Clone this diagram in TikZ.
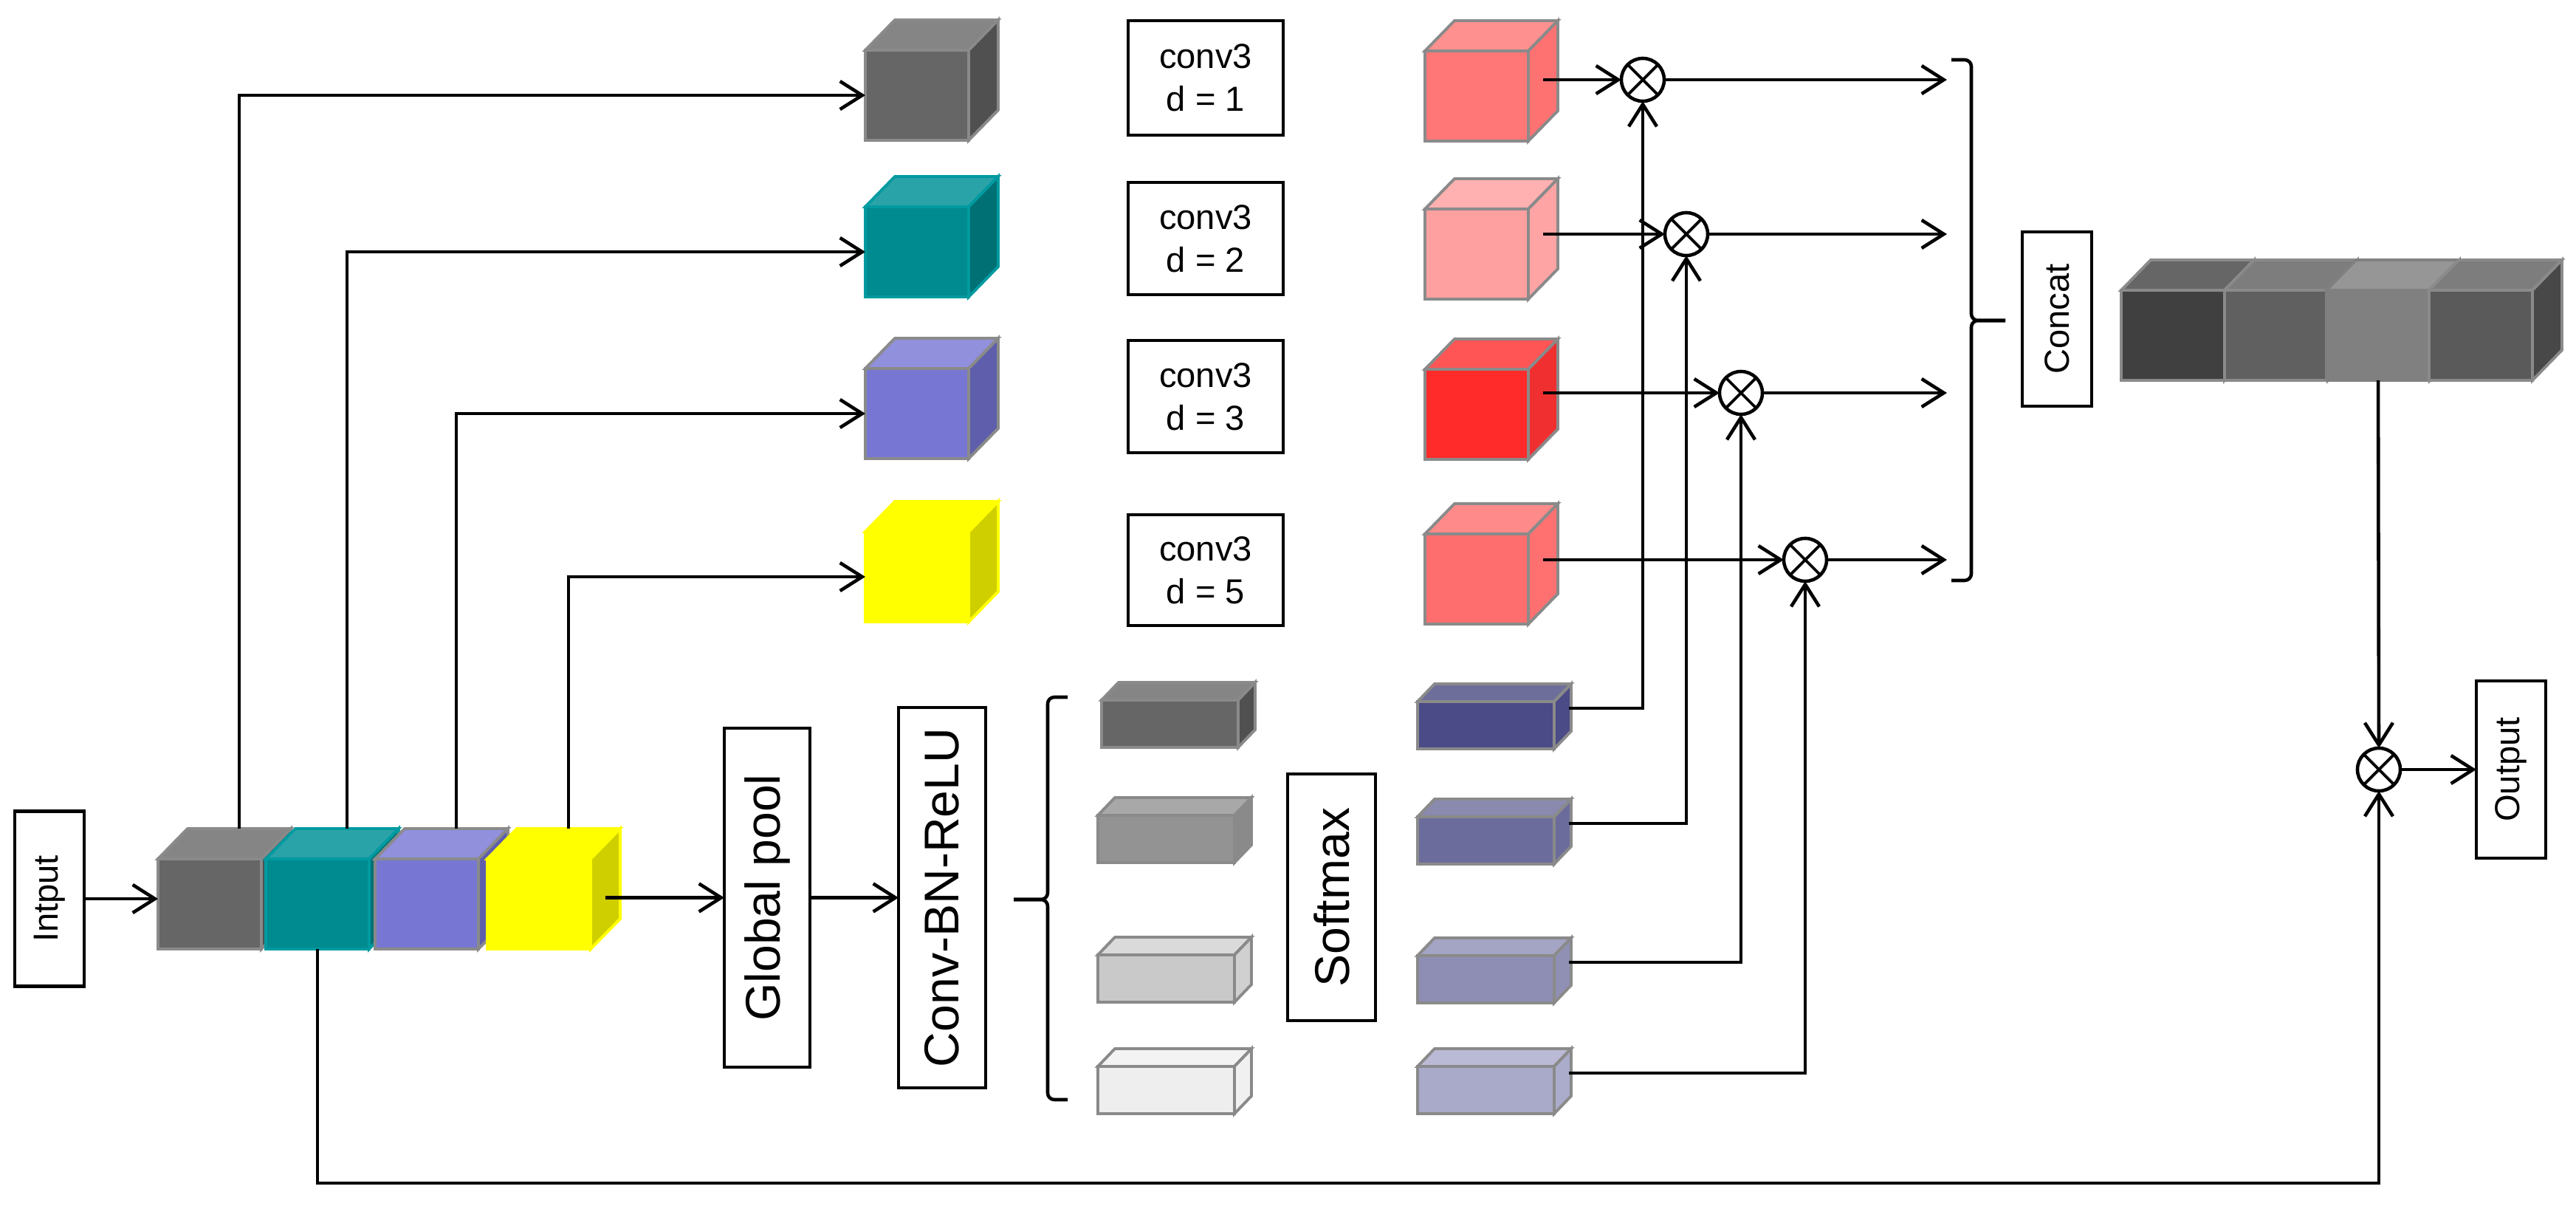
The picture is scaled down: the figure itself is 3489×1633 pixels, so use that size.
\documentclass[tikz,border=0pt]{standalone}
\usepackage{fontspec}
\setmainfont{Liberation Sans}
\usepackage{graphicx}
\usetikzlibrary{arrows.meta}
% input / branch cubes
\definecolor{gF}{HTML}{666666}\definecolor{gT}{HTML}{858585}\definecolor{gS}{HTML}{505050}\definecolor{gO}{HTML}{8A8A8A}
\definecolor{tF}{HTML}{008B91}\definecolor{tT}{HTML}{2AA3A8}\definecolor{tS}{HTML}{007074}\definecolor{tO}{HTML}{009AA0}
\definecolor{vF}{HTML}{7777D3}\definecolor{vT}{HTML}{9090DD}\definecolor{vS}{HTML}{5E5EAC}
\definecolor{yF}{HTML}{FFFF00}\definecolor{yS}{HTML}{CFCF00}
% pink cubes
\definecolor{p1F}{HTML}{FF7777}\definecolor{p1T}{HTML}{FF9090}\definecolor{p1S}{HTML}{FF7272}
\definecolor{p2F}{HTML}{FFA0A0}\definecolor{p2T}{HTML}{FFB0B0}\definecolor{p2S}{HTML}{FFA4A4}
\definecolor{p3F}{HTML}{FF2A2A}\definecolor{p3T}{HTML}{FF5555}\definecolor{p3S}{HTML}{F03030}
\definecolor{p4F}{HTML}{FF6E6E}\definecolor{p4T}{HTML}{FF8A8A}\definecolor{p4S}{HTML}{FF7070}
% slabs
\definecolor{s1F}{HTML}{666666}\definecolor{s1T}{HTML}{858585}\definecolor{s1S}{HTML}{505050}
\definecolor{s2F}{HTML}{939393}\definecolor{s2T}{HTML}{A8A8A8}\definecolor{s2S}{HTML}{8A8A8A}
\definecolor{s3F}{HTML}{C9C9C9}\definecolor{s3T}{HTML}{DADADA}\definecolor{s3S}{HTML}{D0D0D0}
\definecolor{s4F}{HTML}{EEEEEE}\definecolor{s4T}{HTML}{F3F3F3}\definecolor{s4S}{HTML}{F0F0F0}
\definecolor{q1F}{HTML}{4B4B87}\definecolor{q1T}{HTML}{6E6E9B}\definecolor{q1S}{HTML}{4B4B87}
\definecolor{q2F}{HTML}{6C6C9C}\definecolor{q2T}{HTML}{8A8AAF}\definecolor{q2S}{HTML}{6C6C9C}
\definecolor{q3F}{HTML}{8E8EB4}\definecolor{q3T}{HTML}{A4A4C4}\definecolor{q3S}{HTML}{9090B4}
\definecolor{q4F}{HTML}{A9A9C9}\definecolor{q4T}{HTML}{BABAD6}\definecolor{q4S}{HTML}{ABABCB}
% concat cube
\definecolor{k1F}{HTML}{404040}\definecolor{k1T}{HTML}{666666}
\definecolor{k2F}{HTML}{606060}\definecolor{k2T}{HTML}{7D7D7D}
\definecolor{k3F}{HTML}{808080}\definecolor{k3T}{HTML}{969696}
\definecolor{k4F}{HTML}{5A5A5A}\definecolor{k4T}{HTML}{7D7D7D}\definecolor{kS}{HTML}{484848}

% big cube: name, x, y (front top-left), front, top, side, outline
\newcommand{\bcube}[7]{%
  \path[cf,fill=#5,draw=#7] (#2,#3) -- ++(40,-41) -- ++(140,0) -- ++(-40,41) -- cycle;
  \path[cf,fill=#6,draw=#7] (#2+140,#3) -- ++(40,-41) -- ++(0,122) -- ++(-40,41) -- cycle;
  \node[cf,draw=#7,fill=#4,minimum width=1.4cm,minimum height=1.22cm,anchor=north west] (#1) at (#2,#3) {};
  \coordinate (#1-t) at (#2+110,#3-41);
  \coordinate (#1-r) at (#2+160,#3+41);
}
% flat slab: name, x, y, front, top, side, outline
\newcommand{\slab}[7]{%
  \path[cf,fill=#5,draw=#7] (#2,#3) -- ++(23,-24) -- ++(185,0) -- ++(-23,24) -- cycle;
  \path[cf,fill=#6,draw=#7] (#2+185,#3) -- ++(23,-24) -- ++(0,64) -- ++(-23,24) -- cycle;
  \node[cf,draw=#7,fill=#4,minimum width=1.85cm,minimum height=0.64cm,anchor=north west] (#1) at (#2,#3) {};
  \coordinate (#1-r) at (#2+205,#3+9);
}

\begin{document}
\begin{tikzpicture}[x=0.01cm,y=-0.01cm,line width=1.3pt,
  arr/.style={-{Straight Barb[length=0.3cm,width=0.38cm]}},
  box/.style={draw=black,line width=1.3pt,fill=white,inner sep=0pt,outer sep=0pt},
  lbl/.style={font=\fontsize{13.4}{16.5}\selectfont},
  big/.style={font=\fontsize{18.8}{22}\selectfont},
  cf/.style={inner sep=0pt,outer sep=0pt,line width=1.1pt},
  otimes/.style={circle,draw,line width=1.3pt,minimum size=0.58cm,inner sep=0pt,outer sep=0pt,fill=white},
  brk/.style={line width=1.3pt,rounded corners=0.09cm}]
\useasboundingbox (0,0) rectangle (3489,1633);

% ---------- input strip ----------
\node[box,lbl,minimum width=0.94cm,minimum height=2.37cm] (inp) at (67,1217) {\rotatebox{90}{Intput}};
\bcube{in1}{214}{1163}{gF}{gT}{gS}{gO}
\bcube{in2}{360}{1163}{tF}{tT}{tS}{tO}
\bcube{in3}{508}{1163}{vF}{vT}{vS}{gO}
\bcube{in4}{660}{1163}{yF}{yF}{yS}{yF}

% ---------- branch cubes ----------
\bcube{u1}{1172}{68}{gF}{gT}{gS}{gO}
\bcube{u2}{1172}{280}{tF}{tT}{tS}{tO}
\bcube{u3}{1172}{499}{vF}{vT}{vS}{gO}
\bcube{u4}{1172}{720}{yF}{yF}{yS}{yF}

\node[box,lbl,align=center,minimum width=2.1cm,minimum height=1.55cm] (k1) at (1633,105.5) {conv3\\d = 1};
\node[box,lbl,align=center,minimum width=2.1cm,minimum height=1.52cm] (k2) at (1633,323) {conv3\\d = 2};
\node[box,lbl,align=center,minimum width=2.1cm,minimum height=1.52cm] (k3) at (1633,537) {conv3\\d = 3};
\node[box,lbl,align=center,minimum width=2.1cm,minimum height=1.50cm] (k4) at (1633,772) {conv3\\d = 5};

\bcube{p1}{1930}{69}{p1F}{p1T}{p1S}{gO}
\bcube{p2}{1930}{283}{p2F}{p2T}{p2S}{gO}
\bcube{p3}{1930}{500}{p3F}{p3T}{p3S}{gO}
\bcube{p4}{1930}{723}{p4F}{p4T}{p4S}{gO}

% ---------- attention path ----------
\node[box,big,minimum width=1.16cm,minimum height=4.59cm] (gp) at (1039,1215.5) {\rotatebox{90}{Global pool}};
\node[box,big,minimum width=1.18cm,minimum height=5.15cm] (cbr) at (1276,1215.5) {\rotatebox{90}{Conv-BN-ReLU}};
\node[box,big,minimum width=1.19cm,minimum height=3.34cm] (sm) at (1803.5,1215) {\rotatebox{90}{Softmax}};

\slab{s1}{1492}{948}{s1F}{s1T}{s1S}{gO}
\slab{s2}{1487}{1104}{s2F}{s2T}{s2S}{gO}
\slab{s3}{1487}{1293}{s3F}{s3T}{s3S}{gO}
\slab{s4}{1487}{1444}{s4F}{s4T}{s4S}{gO}

\slab{q1}{1920}{950}{q1F}{q1T}{q1S}{gO}
\slab{q2}{1920}{1106}{q2F}{q2T}{q2S}{gO}
\slab{q3}{1920}{1294}{q3F}{q3T}{q3S}{gO}
\slab{q4}{1920}{1444}{q4F}{q4T}{q4S}{gO}

% ---------- multiplications ----------
\node[otimes] (m1) at (2225,108) {};
\node[otimes] (m2) at (2284,317) {};
\node[otimes] (m3) at (2358,532) {};
\node[otimes] (m4) at (2445,758) {};
\node[otimes] (mo) at (3222,1042) {};

% ---------- concat ----------
\node[box,lbl,minimum width=0.94cm,minimum height=2.36cm] (cat) at (2786,432) {\rotatebox{90}{Concat}};
\bcube{c1}{2873}{393}{k1F}{k1T}{kS}{gO}
\bcube{c2}{3013}{393}{k2F}{k2T}{kS}{gO}
\bcube{c3}{3151}{393}{k3F}{k3T}{kS}{k3F}
\bcube{c4}{3290}{393}{k4F}{k4T}{kS}{gO}
\node[box,lbl,minimum width=0.94cm,minimum height=2.40cm] (out) at (3401,1042) {\rotatebox{90}{Output}};

\coordinate (cend) at (2637,0);
\coordinate (botline) at (0,1602);

% ---------- connectors ----------
\draw[arr] (inp.east) -- (inp.east -| in1.west);
\draw[arr] (in1-t) |- (u1.west);
\draw[arr] (in2-t) |- (u2.west);
\draw[arr] (in3-t) |- (u3.west);
\draw[arr] (in4-t) |- (u4.west);
\draw[arr] (in4-r |- gp.west) -- (gp.west);
\draw[arr] (gp.east) -- (cbr.west);

\draw[brk] (1446,944) -- (1419,944) -- (1419,1218) -- (1373,1218);
\draw[brk] (1446,1489) -- (1419,1489) -- (1419,1218) -- (1373,1218);

\draw[arr] (q1-r) -| (m1.south);
\draw[arr] (q2-r) -| (m2.south);
\draw[arr] (q3-r) -| (m3.south);
\draw[arr] (q4-r) -| (m4.south);

\draw[arr] (p1-r |- m1.west) -- (m1.west);
\draw[arr] (p2-r |- m2.west) -- (m2.west);
\draw[arr] (p3-r |- m3.west) -- (m3.west);
\draw[arr] (p4-r |- m4.west) -- (m4.west);

\foreach \m in {m1,m2,m3,m4,mo}{
  \draw[line width=1.1pt] (\m.north east) -- (\m.south west) (\m.north west) -- (\m.south east);
}

\draw[arr] (m1.east) -- (m1.east -| cend);
\draw[arr] (m2.east) -- (m2.east -| cend);
\draw[arr] (m3.east) -- (m3.east -| cend);
\draw[arr] (m4.east) -- (m4.east -| cend);

\draw[brk] (2643,81) -- (2670,81) -- (2670,434) -- (2716,434);
\draw[brk] (2643,786) -- (2670,786) -- (2670,434) -- (2716,434);

\draw[arr] (c3.south) -- (mo.north);
\draw[arr] (mo.east) -- (out.west);
\draw[arr] (in2.south) -- (in2.south |- botline) -| (mo.south);
\end{tikzpicture}
\end{document}
